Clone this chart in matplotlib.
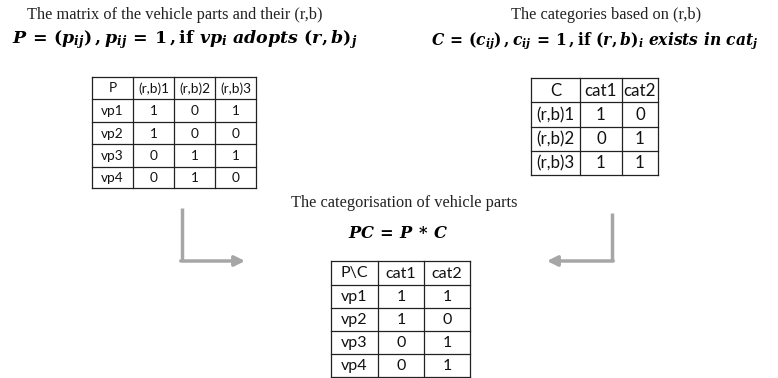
import matplotlib
matplotlib.use("Agg")
import matplotlib.pyplot as plt

plt.rcParams['mathtext.fontset'] = 'custom'
plt.rcParams['mathtext.it'] = 'DejaVu Serif:bold:italic'
plt.rcParams['mathtext.rm'] = 'DejaVu Serif:bold'
plt.rcParams['mathtext.bf'] = 'DejaVu Serif:bold'

# table contents
p_header = ["P", "(r,b)1", "(r,b)2", "(r,b)3"]
p_rows = ["vp1", "vp2", "vp3", "vp4"]
p_vals = [[1, 0, 1],
          [1, 0, 0],
          [0, 1, 1],
          [0, 1, 0]]

c_header = ["C", "cat1", "cat2"]
c_rows = ["(r,b)1", "(r,b)2", "(r,b)3"]
c_vals = [[1, 0],
          [0, 1],
          [1, 1]]

pc_header = ["P\\C", "cat1", "cat2"]
pc_rows = ["vp1", "vp2", "vp3", "vp4"]
pc_vals = [[1, 1],
           [1, 0],
           [0, 1],
           [0, 1]]

titles = ["The matrix of the vehicle parts and their (r,b)",
          "The categories based on (r,b)",
          "The categorisation of vehicle parts"]
formulas = [r"$P\, =\, (p_{ij})\,,p_{ij}\, =\, 1\,,\mathrm{if}\ vp_{i}\ adopts\ (r,b)_{j}$",
            r"$C\, =\, (c_{ij})\,,c_{ij}\, =\, 1\,,\mathrm{if}\ (r,b)_{i}\ exists\ in\ cat_{j}$",
            r"$PC\, =\, P\, *\, C$"]

fig = plt.figure(figsize=(7.78, 3.78), dpi=100)
ax = fig.add_axes([0, 0, 1, 1])
ax.set_xlim(0, 778)
ax.set_ylim(378, 0)
ax.axis('off')
renderer = fig.canvas.get_renderer()


def fit_width(t, width):
    # scale the font so the text spans about `width` pixels
    w = t.get_window_extent(renderer).width
    t.set_fontsize(t.get_fontsize() * width / w)


def draw_table(xs, ys, header, rows, vals, fs):
    # grid lines
    for x in xs:
        ax.plot([x, x], [ys[0], ys[-1]], color='#222222', lw=0.9)
    for y in ys:
        ax.plot([xs[0], xs[-1]], [y, y], color='#222222', lw=0.9)
    cells = [header] + [[r] + [str(v) for v in vr] for r, vr in zip(rows, vals)]
    for i, line in enumerate(cells):
        for j, txt in enumerate(line):
            ax.text((xs[j] + xs[j + 1]) / 2, (ys[i] + ys[i + 1]) / 2 + 0.5, txt,
                    ha='center', va='center', fontsize=fs, family='Lato',
                    color='#111111')


draw_table([92, 133, 174, 215, 256], [77, 99, 122, 144, 167, 188],
           p_header, p_rows, p_vals, 9.8)
draw_table([531, 580, 622, 658], [78, 102, 127, 151, 175],
           c_header, c_rows, c_vals, 12.2)
draw_table([331, 378, 424, 470], [261, 285, 308, 331, 354, 377],
           pc_header, pc_rows, pc_vals, 11.5)

# titles and formulas
tkw = dict(ha='center', va='center', fontsize=11.8,
           family='Liberation Serif', color='#222222')
ax.text(175, 15, titles[0], **tkw)
ax.text(606, 15, titles[1], **tkw)
ax.text(404, 203, titles[2], **tkw)
f1 = ax.text(185, 40, formulas[0], ha='center', va='center', fontsize=13)
f2 = ax.text(595, 41, formulas[1], ha='center', va='center', fontsize=13)
f3 = ax.text(398, 233, formulas[2], ha='center', va='center', fontsize=13)
fit_width(f1, 344)
fit_width(f2, 326)
fit_width(f3, 99)

# arrows
gray = '#a6a6a6'
ax.plot([182, 182], [208, 261], color=gray, lw=2.5, solid_capstyle='butt')
ax.annotate('', xy=(245, 261), xytext=(180.8, 261),
            arrowprops=dict(arrowstyle='-|>,head_length=0.6,head_width=0.3',
                            color=gray, lw=2.5, shrinkA=0, shrinkB=0))
ax.plot([612, 612], [213, 261], color=gray, lw=2.5, solid_capstyle='butt')
ax.annotate('', xy=(547, 261), xytext=(613.2, 261),
            arrowprops=dict(arrowstyle='-|>,head_length=0.6,head_width=0.3',
                            color=gray, lw=2.5, shrinkA=0, shrinkB=0))

fig.savefig('out.png', dpi=100)
